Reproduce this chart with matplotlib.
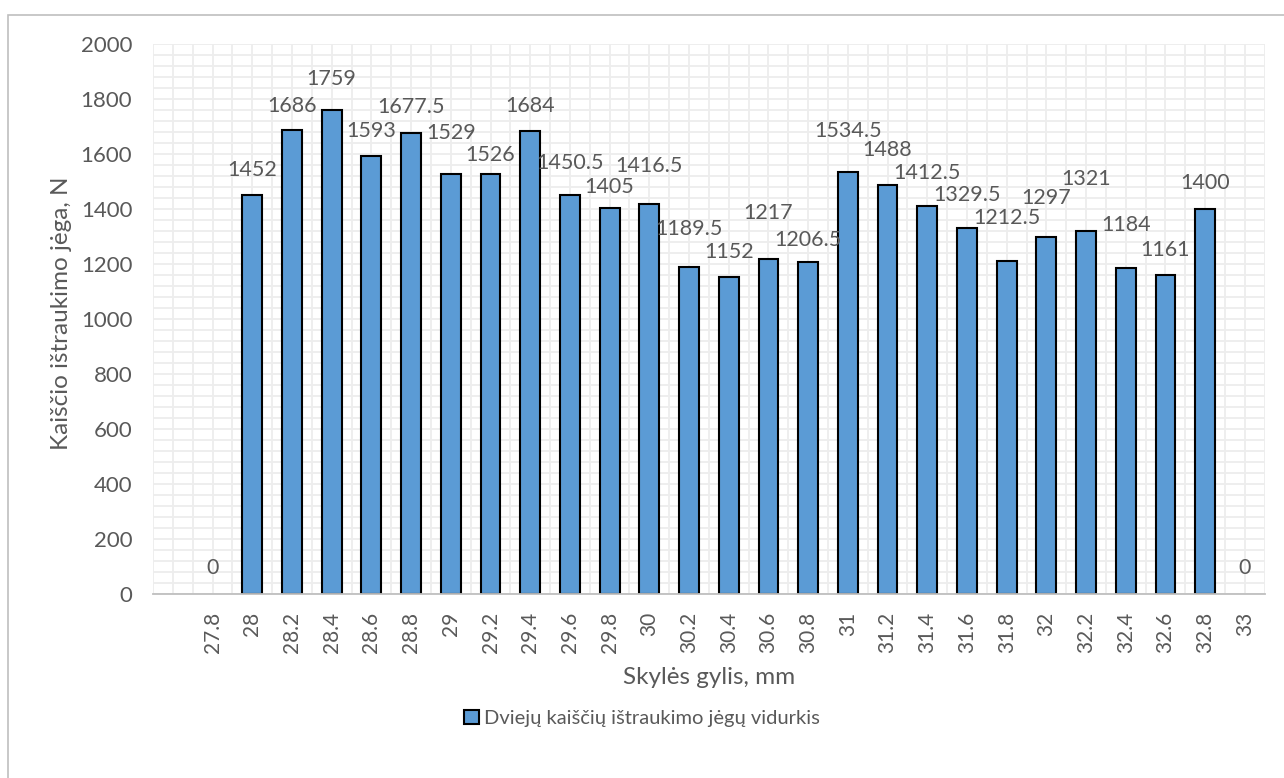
import numpy as np
import matplotlib
matplotlib.use("Agg")
from matplotlib import pyplot as plt
from matplotlib.patches import Rectangle

# gylis (mm) ir vidutine istraukimo jega (N); pirma kategorija tuscia
depths = ["", "27.8", "28", "28.2", "28.4", "28.6", "28.8", "29", "29.2", "29.4",
          "29.6", "29.8", "30", "30.2", "30.4", "30.6", "30.8", "31", "31.2",
          "31.4", "31.6", "31.8", "32", "32.2", "32.4", "32.6", "32.8", "33"]
forces = [np.nan, 0, 1452, 1686, 1759, 1593, 1677.5, 1529, 1526, 1684,
          1450.5, 1405, 1416.5, 1189.5, 1152, 1217, 1206.5, 1534.5, 1488,
          1412.5, 1329.5, 1212.5, 1297, 1321, 1184, 1161, 1400, 0]

# kiek pikseliu virs stulpelio rasomas skaicius (kad nesiliestu)
label_lift = [0, 26, 25, 24, 31, 25, 26, 41, 19, 25, 32, 21, 38, 38, 25,
              46, 22, 41, 35, 33, 33, 43, 39, 52, 43, 25, 26, 26]

grey = "#595959"
plt.rcParams['font.family'] = ['Lato', 'DejaVu Sans']

fig = plt.figure(figsize=(12.84, 7.78), dpi=100)
ax = fig.add_axes([0.1192, 0.2365, 0.8658, 0.7069])

x = np.arange(len(depths))
vals = np.array(forces, dtype=float)
# nuliniu stulpeliu nepiesiam, tik ju reiksme
bar_vals = np.where(vals > 0, vals, np.nan)
ax.bar(x, bar_vals, width=0.5, color="#5B9BD5", edgecolor="black",
       linewidth=1.5, zorder=3, label="Dviejų kaiščių ištraukimo jėgų vidurkis")

for xi, v, lift in zip(x, vals, label_lift):
    if np.isnan(v):
        continue
    ax.annotate("%g" % v, (xi, v), xytext=(0, lift), textcoords="offset pixels",
                ha="center", va="center", fontsize=15.5, color=grey, zorder=4)

ax.set_xlim(-0.5, len(depths) - 0.5)
ax.set_ylim(0, 2000)
ax.set_yticks(np.arange(0, 2001, 200))
ax.set_yticks(np.arange(0, 2001, 40), minor=True)
ax.set_xticks(x)
ax.set_xticks(np.arange(-0.5, len(depths), 1.0), minor=True)
ax.set_xticklabels(depths, rotation=90, va="top")

ax.grid(which="both", color="#EDEDED", linewidth=1.3, zorder=0)
ax.set_axisbelow(True)
ax.tick_params(which="both", length=0, colors=grey)
ax.tick_params(axis="y", pad=15, labelsize=16)
ax.tick_params(axis="x", pad=13, labelsize=15)

for s in ["top", "right", "left"]:
    ax.spines[s].set_visible(False)
ax.spines["bottom"].set_color("#BFBFBF")
ax.spines["bottom"].set_linewidth(1.3)
ax.spines["bottom"].set_zorder(5)

ax.set_xlabel("Skylės gylis, mm", fontsize=17.5, color=grey, va="center")
ax.set_ylabel("Kaiščio ištraukimo jėga, N", fontsize=17.5, color=grey, va="center")
ax.xaxis.set_label_coords(0.5, -0.151)
ax.yaxis.set_label_coords(-0.082, 0.51)

fig.legend(loc="center", bbox_to_anchor=(0.5, 0.076), frameon=False,
           fontsize=14.5, handlelength=0.7, handleheight=0.7,
           handletextpad=0.25, labelcolor=grey)

# remelis aplink diagrama
fig.patches.append(Rectangle((8 / 1284, -0.05), 1.1, 1.05 - 15 / 778,
                             transform=fig.transFigure, fill=False,
                             edgecolor="#BFBFBF", linewidth=1.2))

fig.savefig("out.png", dpi=100)
